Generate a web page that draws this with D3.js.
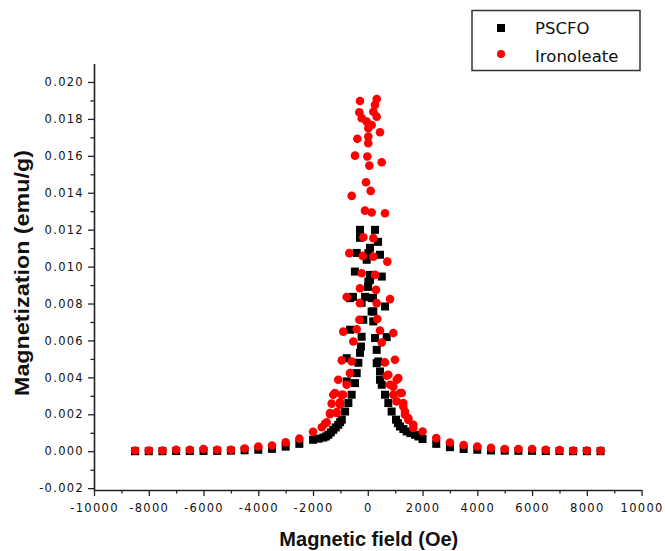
<!DOCTYPE html>
<html>
<head>
<meta charset="utf-8">
<script src="https://cdn.jsdelivr.net/npm/d3@7"></script>
<style>
  body { margin: 0; background: #fff; }
  svg { display: block; }
</style>
</head>
<body>
<svg id="chart" width="665" height="551"></svg>
<script>
// Magnetization vs applied field, two samples
const pscfoField = [
  -8500, -8000, -7500, -7000, -6500, -6000, -5500, -5000, -4500, -4000, -3500, -3000,
  -2500, -2000, -1800, -1625, -1530, -1440, -1350, -1260, -1170, -1080, -1010, -950,
  -830, -710, -590, -470, -405, -345, -285, -250, -225, -165,
  -770, -770, -650, -650, -540, -470, -405, -285, -285, -225, -100, -40,
  10, 20, 20, 80, 80, 80, 140, 140, 190, 200, 200, 265, 265, 325, 325, 375,
  385, 445, 445, 445, 510, 510, 630, 630, 690,
  750, 870, 1030, 1100, 1175, 1300, 1420, 1560, 1725, 1850, 2000, 2500,
  3000, 3500, 4000, 4500, 5000, 5500, 6000, 6500, 7000, 7500, 8000, 8500
];
const pscfoMag = [
  0.00000, 0.00000, 0.00000, 0.00001, 0.00001, 0.00001, 0.00002, 0.00003, 0.00005, 0.00008, 0.00013, 0.00025,
  0.00040, 0.00062, 0.00068, 0.00074, 0.00080, 0.00089, 0.00102, 0.00116, 0.00129, 0.00143, 0.00157, 0.00171,
  0.00215, 0.00261, 0.00306, 0.00369, 0.00423, 0.00479, 0.00533, 0.00567, 0.00620, 0.00712,
  0.00378, 0.00504, 0.00658, 0.00829, 0.00836, 0.00973, 0.01074, 0.01156, 0.01199, 0.00804, 0.00836, 0.01037,
  0.00890, 0.01073, 0.00919, 0.01102, 0.00928, 0.00955, 0.00757, 0.00829, 0.00831, 0.00757, 0.00703, 0.01199, 0.00613, 0.00549, 0.00477, 0.01134,
  0.00486, 0.01064, 0.00432, 0.00387, 0.00946, 0.00360, 0.00306, 0.00784, 0.00618,
  0.00261, 0.00215, 0.00171, 0.00152, 0.00134, 0.00120, 0.00107, 0.00098, 0.00089, 0.00080, 0.00066, 0.00040,
  0.00022, 0.00012, 0.00008, 0.00004, 0.00003, 0.00002, 0.00002, 0.00001, 0.00001, 0.00000, 0.00000, 0.00000
];

const oleateField = [
  -8500, -8000, -7500, -7000, -6500, -6000, -5500, -5000, -4500, -4000, -3500, -3000,
  -2500, -2000, -1680, -1560, -1500, -1380, -1380, -1320, -1260, -1200, -1135, -1135,
  -1080, -1015, -1015, -950, -953, -895, -770, -650, -590,
  -895, -530, -405, -771, -310, -285, -285, -223, -676, -186, -164, -102,
  -588, -66, 106, 55, -18, -467, 18, -383, 18, 446, 18, 142, -40, -223, 325,
  -310, 201, -285, 325, 263,
  508, 142, 628, 201, 201, 712, 263, 300, 811, 325, 347, 446, 931, 508,
  628, 993, 690, 1114, 749, 1055, 811, 1176, 931, 931, 1238, 1296, 1055, 1296,
  1358, 1358, 1479, 1479, 1662, 1662, 2000, 2500,
  3000, 3500, 4000, 4500, 5000, 5500, 6000, 6500, 7000, 7500, 8000, 8500
];
const oleateMag = [
  0.00004, 0.00004, 0.00004, 0.00008, 0.00008, 0.00012, 0.00008, 0.00008, 0.00015, 0.00026, 0.00031, 0.00048,
  0.00068, 0.00105, 0.00130, 0.00150, 0.00156, 0.00200, 0.00207, 0.00258, 0.00306, 0.00315, 0.00212, 0.00207,
  0.00387, 0.00265, 0.00252, 0.00492, 0.00306, 0.00306, 0.00360, 0.00423, 0.00486,
  0.00648, 0.00594, 0.00661, 0.00835, 0.00712, 0.00802, 0.00883, 0.00964, 0.01073, 0.01058, 0.01159, 0.01303,
  0.01383, 0.01457, 0.01410, 0.01547, 0.01596, 0.01601, 0.01668, 0.01692, 0.01704, 0.01728, 0.01749, 0.01767, 0.01785, 0.01804, 0.01812,
  0.01836, 0.01839, 0.01897, 0.01908, 0.01876,
  0.01565, 0.01293, 0.01289, 0.01154, 0.01054, 0.01027, 0.00955, 0.00874, 0.00824, 0.00802, 0.00716, 0.00654, 0.00640, 0.00589,
  0.00481, 0.00495, 0.00409, 0.00396, 0.00414, 0.00387, 0.00360, 0.00315, 0.00350, 0.00306, 0.00315, 0.00261, 0.00270, 0.00242,
  0.00215, 0.00198, 0.00170, 0.00180, 0.00126, 0.00143, 0.00107, 0.00071,
  0.00047, 0.00034, 0.00026, 0.00018, 0.00012, 0.00012, 0.00012, 0.00008, 0.00006, 0.00004, 0.00004, 0.00003
];

const xMajorTicks = [-10000, -8000, -6000, -4000, -2000, 0, 2000, 4000, 6000, 8000, 10000];
const xMinorTicks = [-9000, -7000, -5000, -3000, -1000, 1000, 3000, 5000, 7000, 9000];
const yMajorTicks = [-0.002, 0.000, 0.002, 0.004, 0.006, 0.008, 0.010, 0.012, 0.014, 0.016, 0.018, 0.020];
const yMinorTicks = [-0.001, 0.001, 0.003, 0.005, 0.007, 0.009, 0.011, 0.013, 0.015, 0.017, 0.019];
const seriesNames = ["PSCFO", "Ironoleate"];
const xTitle = "Magnetic field (Oe)";
const yTitle = "Magnetization (emu/g)";

const svg = d3.select("#chart");
const plotLeft = 94, plotRight = 641.6, plotTop = 63.5, plotBottom = 490;

const x = d3.scaleLinear().domain([-10000, 10000]).range([plotLeft, plotRight]);
const y = d3.scaleLinear().domain([-0.0021, 0.021]).range([plotBottom, plotTop]);

const axisColor = "#222";
const tickFont = "DejaVu Sans, Verdana, sans-serif";
// plain hyphen for negative labels
const hyphen = s => s.replace("\u2212", "-");
const fmtX = d => hyphen(d3.format("d")(d));
const fmtY = d => hyphen(d3.format(".3f")(d));

// x axis
const gx = svg.append("g").attr("transform", `translate(0,${plotBottom})`);
gx.call(d3.axisBottom(x).tickValues(xMajorTicks).tickSize(6).tickSizeOuter(0).tickPadding(5)
  .tickFormat(fmtX));
gx.append("g").call(d3.axisBottom(x).tickValues(xMinorTicks).tickSize(3.5).tickSizeOuter(0).tickFormat(""))
  .select(".domain").remove();

// y axis
const gy = svg.append("g").attr("transform", `translate(${plotLeft},0)`);
gy.call(d3.axisLeft(y).tickValues(yMajorTicks).tickSize(6).tickSizeOuter(0).tickPadding(4)
  .tickFormat(fmtY));
gy.append("g").call(d3.axisLeft(y).tickValues(yMinorTicks).tickSize(3.5).tickSizeOuter(0).tickFormat(""))
  .select(".domain").remove();

svg.selectAll(".domain").attr("stroke", axisColor).attr("stroke-width", 1.6);
svg.selectAll(".tick line").attr("stroke", axisColor).attr("stroke-width", 1.3);
svg.selectAll(".tick text")
  .attr("fill", "#111")
  .style("font-family", tickFont)
  .style("font-size", "11.5px")
  .style("letter-spacing", "1.3px");
gx.selectAll(".tick text").attr("dy", "0.95em");

// axis titles
svg.append("text")
  .attr("x", (plotLeft + plotRight) / 2 + 1)
  .attr("y", 546)
  .attr("text-anchor", "middle")
  .style("font-family", "Liberation Sans, Arial, sans-serif")
  .style("font-weight", "bold")
  .style("font-size", "20px")
  .attr("fill", "#111")
  .text(xTitle);

svg.append("text")
  .attr("transform", `translate(29,273) rotate(-90)`)
  .attr("text-anchor", "middle")
  .attr("textLength", 246)
  .attr("lengthAdjust", "spacingAndGlyphs")
  .style("font-family", "Liberation Sans, Arial, sans-serif")
  .style("font-weight", "bold")
  .style("font-size", "21px")
  .attr("fill", "#111")
  .text(yTitle);

// data
const pscfo = pscfoField.map((h, i) => ({ h, m: pscfoMag[i] }));
const oleate = oleateField.map((h, i) => ({ h, m: oleateMag[i] }));
const sq = 8;

svg.append("g").selectAll("rect").data(pscfo).join("rect")
  .attr("x", d => x(d.h) - sq / 2)
  .attr("y", d => y(d.m) - sq / 2)
  .attr("width", sq).attr("height", sq)
  .attr("fill", "#000");

svg.append("g").selectAll("circle").data(oleate).join("circle")
  .attr("cx", d => x(d.h))
  .attr("cy", d => y(d.m))
  .attr("r", 4.3)
  .attr("fill", "#ff0000");

// legend
const lg = svg.append("g");
lg.append("rect").attr("x", 472).attr("y", 10.5).attr("width", 168).attr("height", 60)
  .attr("fill", "#fff").attr("stroke", "#333").attr("stroke-width", 1.5);
lg.append("rect").attr("x", 497).attr("y", 24).attr("width", 8).attr("height", 8).attr("fill", "#000");
lg.append("circle").attr("cx", 501).attr("cy", 54).attr("r", 4).attr("fill", "#ff0000");
lg.selectAll("text.lab").data(seriesNames).join("text")
  .attr("class", "lab")
  .attr("x", 535)
  .attr("y", (d, i) => 34 + i * 28)
  .style("font-family", "DejaVu Sans, sans-serif")
  .style("font-size", "16.5px")
  .attr("fill", "#111")
  .text(d => d);
</script>
</body>
</html>
